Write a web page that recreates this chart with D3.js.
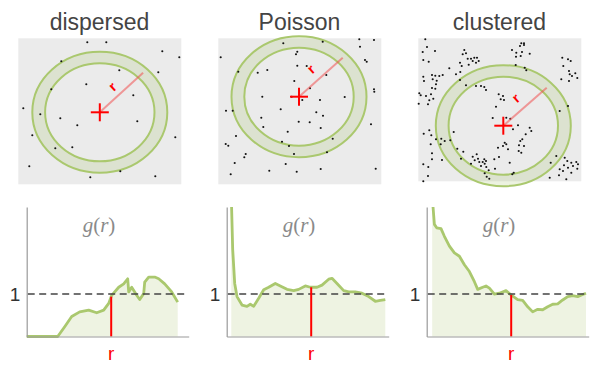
<!DOCTYPE html>
<html><head><meta charset="utf-8">
<script src="https://cdn.jsdelivr.net/npm/d3@7"></script>
<style>html,body{margin:0;padding:0;background:#fff;}svg{display:block;}</style>
</head><body>
<svg id="chart" width="600" height="368"></svg>
<script>
// ---------- data ----------
const categories = ["dispersed", "Poisson", "clustered"];

// point patterns (coordinates inside each grey square, units = square size 163 x 146)
const pointsDispersed = [[69,4],[88,4],[144,13],[161,19],[43,23],[101,32],[140,34],[68,46],[33,51],[115,57],[5,70],[22,76],[42,80],[119,83],[59,87],[14,97],[157,99],[37,110],[54,109],[11,128],[102,133],[137,138],[72,139]];
const pointsPoisson = [[2.4,19],[65,5],[104.4,3.4],[141,1],[155.7,1.7],[141.7,8.4],[79,13.4],[77.7,16],[146.7,21.7],[148.4,23.4],[79,27.4],[88.4,27.7],[49,31.7],[39.4,34.4],[20,33.4],[108,36.7],[76,42.7],[91.7,50],[155.7,51],[156,53.4],[44,58.4],[73.4,58.4],[84,61.7],[101.7,61.7],[126.4,58.7],[62.4,71],[7.7,72.4],[14.4,72.4],[98,74],[104.7,77.4],[43,79.4],[80.4,83.4],[91.4,84],[45,88.7],[102.4,89.7],[152.7,86],[69.4,93.4],[17.7,97.7],[114.4,100.4],[63.7,103.4],[70.7,107.7],[7.4,105.7],[10,107.4],[75.7,115.7],[108.7,114],[27.4,115.7],[26,119],[16.4,124.7],[67.4,125.7],[12.4,136],[51,132.4],[78.4,133.4],[102.4,130.7],[157.4,130.4]];
const pointsClustered = [[7,1],[4.4,13.7],[8.7,8.7],[16.7,12.7],[10.4,23.4],[5,21.7],[46,11.7],[47.7,15],[44.4,16],[49.4,20.4],[52.7,20.4],[56,19.4],[58.7,19.4],[60.4,22.7],[54.4,22.7],[57.7,24.4],[41.7,24.4],[43.4,27.7],[50.4,26.4],[31,30],[42,33.7],[37.7,36],[41.7,41.7],[13.7,36.7],[17,37.4],[21,37.7],[24.4,36.7],[14.4,41],[18.4,42.4],[5,38.4],[5.7,42.7],[17.7,46],[13.7,49.7],[17,50.4],[12.7,56],[7.7,57.7],[1,55],[2.4,57],[15,60.4],[11,62],[9.7,66],[0.4,65.4],[47.7,47],[57.7,47.7],[62.7,47.7],[66,48.7],[67.7,51.7],[80.4,56],[77.7,68.4],[74.4,79.7],[35.4,93.7],[11,92],[5.4,95.4],[13,97],[17.7,101],[12.4,106],[23,100.4],[26.4,102.7],[32,102],[22.4,106],[39,110.4],[45,113.4],[13.7,115],[13.7,121],[23.7,121.7],[5,126],[10,128.7],[42.7,120.4],[54.4,118.4],[58.4,116],[59.7,120.4],[56.4,122],[52.7,125.4],[61,123.7],[64.4,123.7],[66,121],[67.7,122.7],[62.7,127.7],[66.4,125.4],[68,128.7],[70.4,132],[66.4,135],[68.4,138.4],[71,140.4],[76,121],[9.7,137.7],[5,143],[76.7,130.4],
  [103,5],[105.7,5],[101.7,7.7],[93.7,11.7],[98,14.4],[102.4,17.7],[111.4,15.4],[97.7,18.4],[103.7,13.7],[105.7,6.7],[97.4,26.7],[106.4,29.4],[108,32],[144,19.4],[149.7,21],[152.4,22.7],[145,27.7],[143,41],[150.7,32.7],[151.4,36],[157,35],[153.7,37.7],[159,39.7],[150.7,42.7],[149.7,67.7],[141.4,72.7],[84.7,57.7],[82.4,61],[85.7,61.7],[88,79.4],[92,80.4],[99.7,87],[111.4,89.4],[113,92.7],[94.7,91],[107.4,96],[104,101],[102,102.7],[105.7,107.7],[100.7,107],[86.4,104.4],[84.7,107.7],[88,106],[89.7,111],[100.4,112.7],[103,114.4],[79.7,109.4],[91.4,124.4],[80.7,118.7],[138,117.7],[146.4,119.4],[149,122.7],[153,124.4],[158,123.7],[159.7,126],[154.7,127.7],[145.7,127],[141.4,131],[144.7,132.7],[149.7,129.4],[153,134.4],[159,130.4],[132.4,124.4],[148,141],[140.7,137],[131.4,139.4],[95.4,134.4],[94,136]];

// pair-correlation curves g(r): [r, g]
const gDispersed = [[0,0],[31,0],[38,0.23],[45,0.47],[53,0.58],[62,0.62],[70,0.56],[77,0.62],[82,0.78],[85,0.97],[92,1.16],[97,1.24],[101,1.36],[102,1.05],[105,1.16],[110,0.97],[113,0.87],[117,1.01],[118,1.28],[122,1.40],[128,1.40],[132,1.36],[138,1.24],[145,1.05],[151,0.81]];
const gPoisson = [[4.6,3.3],[6,2.05],[8,1.25],[10.3,0.94],[15.3,0.74],[20.3,0.71],[23.6,0.76],[27,0.71],[32,0.90],[37,1.10],[42,1.16],[48.6,1.25],[53.6,1.19],[60.3,1.11],[67,1.08],[72,1.11],[78.6,1.19],[83.6,1.16],[90.3,1.16],[95.3,1.21],[102,1.35],[105.3,1.37],[110.3,1.25],[117,1.08],[122,1.05],[128.6,1.05],[135.3,1.02],[142,0.94],[148.6,0.83],[153.6,0.85],[158.6,0.87]];
const gClustered = [[5.5,3.3],[7.7,2.64],[10,2.56],[14.3,2.54],[17.7,2.36],[22.7,2.13],[27.7,1.97],[32.7,1.89],[37.7,1.69],[42.7,1.53],[47.7,1.29],[51,1.11],[56,1.16],[59.3,1.19],[62.7,1.14],[67.7,1.0],[72.7,1.02],[79.3,1.08],[84.3,0.98],[91,0.87],[96,0.85],[101,0.70],[106,0.58],[111,0.64],[116,0.63],[121,0.70],[126,0.76],[131,0.77],[136,0.86],[141,0.94],[146,0.96],[151,0.94],[156,0.99],[159.3,1.02]];

const rMarker = 84.5;          // marked distance r
const yTickLabels = ["1"];
const yTickValues = [1];

// ---------- layout ----------
const svg = d3.select("#chart");
const panels = [
  {title: categories[0], pts: pointsDispersed, g: gDispersed, boxH: 146, cx: 81.5, cy: 74, rLabel: [13.5, -25], lineEnd: [43.3, -39.6]},
  {title: categories[1], pts: pointsPoisson, g: gPoisson, boxH: 146, cx: 80.7, cy: 58.4, rLabel: [12.7, -26.7], lineEnd: [43.7, -39]},
  {title: categories[2], pts: pointsClustered, g: gClustered, boxH: 143, cx: 85, cy: 87.4, rLabel: [13.4, -26.7], lineEnd: [43.4, -38]}
];
const ringOuter = [67.5, 60.5], ringInner = [54.7, 49];

const green = "#aac86e";
const defs = svg.append("defs");
defs.append("clipPath").attr("id","plotclip").append("rect").attr("x",-5).attr("y",207).attr("width",200).attr("height",140);

panels.forEach((p, i) => {
  const ox = i * 200;
  const g = svg.append("g").attr("transform", `translate(${ox},0)`);

  // title
  g.append("text").attr("x", 99.5).attr("y", 30).attr("text-anchor","middle")
    .attr("font-family","'Liberation Sans', Arial, sans-serif").attr("font-size", 23)
    .attr("fill","#444").text(p.title);

  // top square
  const bx = 18.3, by = 38.3;
  const sx = d3.scaleLinear().domain([0,163]).range([bx, bx+163]);
  const sy = d3.scaleLinear().domain([0,146]).range([by, by+146]);
  g.append("rect").attr("x", sx(0)).attr("y", sy(0)).attr("width", sx(163)-sx(0)).attr("height", sy(p.boxH)-sy(0)).attr("fill","#ebebeb");

  const cx = sx(p.cx), cy = sy(p.cy);
  const ro = ringOuter, ri = ringInner;
  const ell = (rx, ry) => `M${cx-rx},${cy} a${rx},${ry} 0 1,0 ${2*rx},0 a${rx},${ry} 0 1,0 ${-2*rx},0 Z`;
  g.append("path").attr("d", ell(ro[0], ro[1]) + ell(ri[0], ri[1])).attr("fill-rule","evenodd")
    .attr("fill", "rgba(170,198,115,0.22)");
  g.append("ellipse").attr("cx",cx).attr("cy",cy).attr("rx",ro[0]).attr("ry",ro[1]).attr("fill","none").attr("stroke",green).attr("stroke-width",2);
  g.append("ellipse").attr("cx",cx).attr("cy",cy).attr("rx",ri[0]).attr("ry",ri[1]).attr("fill","none").attr("stroke",green).attr("stroke-width",2);

  // points
  g.selectAll("circle.pt").data(p.pts).join("circle").attr("class","pt")
    .attr("cx", d => sx(d[0])).attr("cy", d => sy(d[1])).attr("r", 1.05).attr("fill","#111");

  // radius line
  g.append("line").attr("x1",cx).attr("y1",cy).attr("x2",cx+p.lineEnd[0]).attr("y2",cy+p.lineEnd[1])
    .attr("stroke","rgba(240,80,80,0.55)").attr("stroke-width",2);
  const ang = Math.atan2(p.lineEnd[1], p.lineEnd[0]) * 180 / Math.PI;
  const lx = cx + p.rLabel[0], ly = cy + p.rLabel[1];
  g.append("text").attr("x",lx).attr("y",ly).attr("text-anchor","middle").attr("dominant-baseline","middle")
    .attr("transform",`rotate(${ang},${lx},${ly})`)
    .attr("font-family","'Liberation Sans', Arial, sans-serif").attr("font-size",14).attr("font-weight","bold")
    .attr("fill","#f00").text("r");
  // cross
  g.append("line").attr("x1",cx-9).attr("x2",cx+9).attr("y1",cy).attr("y2",cy).attr("stroke","#f00").attr("stroke-width",2);
  g.append("line").attr("x1",cx).attr("x2",cx).attr("y1",cy-9).attr("y2",cy+9).attr("stroke","#f00").attr("stroke-width",2);

  // bottom chart
  const ax0 = 26.7;
  const x = d3.scaleLinear().domain([0,162]).range([ax0, ax0+162]);
  const y = d3.scaleLinear().domain([0,3.05]).range([336.5, 207]);
  const area = d3.area().x(d => x(d[0])).y0(y(0)).y1(d => y(d[1]));
  const line = d3.line().x(d => x(d[0])).y(d => y(d[1]));
  const cg = g.append("g").attr("clip-path","url(#plotclip)");
  cg.append("path").datum(p.g).attr("d", area).attr("fill","#eef3e2");
  cg.append("path").datum(p.g).attr("d", line).attr("fill","none").attr("stroke",green).attr("stroke-width",2.8).attr("stroke-linejoin","round");

  // dashed line at 1
  g.append("line").attr("x1",x(1)).attr("x2",x(158.5)).attr("y1",y(1)).attr("y2",y(1))
    .attr("stroke","#444").attr("stroke-width",1.5).attr("stroke-dasharray","7,4.5");

  // red r marker
  const gi = d3.scaleLinear().domain(p.g.map(d=>d[0])).range(p.g.map(d=>d[1]));
  g.append("line").attr("x1",x(rMarker)).attr("x2",x(rMarker)).attr("y1",y(0)).attr("y2",y(gi(rMarker)))
    .attr("stroke","#f00").attr("stroke-width",2);

  // axes
  const xAxis = d3.axisBottom(x).tickValues([]).tickSizeOuter(0);
  const yAxis = d3.axisLeft(y).tickValues([]).tickSizeOuter(0);
  const xa = g.append("g").attr("transform",`translate(0,${y(0)})`).call(xAxis);
  const ya = g.append("g").attr("transform",`translate(${ax0},0)`).call(yAxis);
  [xa, ya].forEach(a => a.select(".domain").attr("stroke","#9a9a9a").attr("stroke-width",1.2));

  // tick label "1"
  g.selectAll("text.yt").data(yTickValues).join("text").attr("class","yt")
    .attr("x", 15).attr("y", d => y(d) + 7).attr("text-anchor","middle")
    .attr("font-family","'Liberation Sans', Arial, sans-serif").attr("font-size",19).attr("fill","#333")
    .text((d,k) => yTickLabels[k]);

  // x label r
  g.append("text").attr("x", x(rMarker)).attr("y", 360).attr("text-anchor","middle")
    .attr("font-family","'Liberation Sans', Arial, sans-serif").attr("font-size",19).attr("fill","#f00").text("r");

  // g(r) label
  const t = g.append("text").attr("x", 99).attr("y", 232).attr("text-anchor","middle")
    .attr("font-family","'Liberation Serif', 'DejaVu Serif', serif").attr("font-size",21).attr("fill","#8a8a8a");
  t.append("tspan").attr("font-style","italic").text("g");
  t.append("tspan").text("(");
  t.append("tspan").attr("font-style","italic").text("r");
  t.append("tspan").text(")");
});
</script>
</body></html>
